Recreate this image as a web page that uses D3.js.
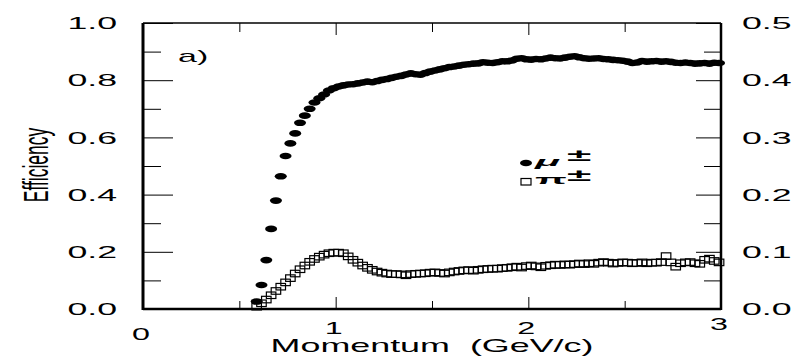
<!DOCTYPE html>
<html lang="en">
<head>
<meta charset="UTF-8">
<title>Efficiency vs Momentum</title>
<script src="https://cdn.jsdelivr.net/npm/d3@7"></script>
<style>
    body { margin: 0; background: #fff; }
    svg { display: block; }
    text { font-family: "Liberation Sans", Arial, sans-serif; fill: #000; }
</style>
</head>
<body>
<svg id="canvas" width="799" height="357"></svg>
<script>
    // momentum bins (GeV/c)
    const momentum = [
        0.590,0.615,0.640,0.665,0.690,0.715,0.740,0.765,0.790,0.815,
        0.840,0.865,0.890,0.915,0.940,0.965,0.990,1.015,1.040,1.065,
        1.090,1.115,1.140,1.165,1.190,1.215,1.240,1.265,1.290,1.315,
        1.340,1.365,1.390,1.415,1.440,1.465,1.490,1.515,1.540,1.565,
        1.590,1.615,1.640,1.665,1.690,1.715,1.740,1.765,1.790,1.815,
        1.840,1.865,1.890,1.915,1.940,1.965,1.990,2.015,2.040,2.065,
        2.090,2.115,2.140,2.165,2.190,2.215,2.240,2.265,2.290,2.315,
        2.340,2.365,2.390,2.415,2.440,2.465,2.490,2.515,2.540,2.565,
        2.590,2.615,2.640,2.665,2.690,2.715,2.740,2.765,2.790,2.815,
        2.840,2.865,2.890,2.915,2.940,2.965,2.990
    ];
    // muon efficiency (left axis)
    const muonEff = [
        0.026,0.084,0.171,0.280,0.379,0.464,0.535,0.579,0.614,0.651,
        0.676,0.700,0.722,0.737,0.750,0.764,0.772,0.778,0.782,0.785,
        0.786,0.789,0.792,0.795,0.793,0.797,0.801,0.804,0.808,0.812,
        0.815,0.820,0.824,0.821,0.819,0.825,0.830,0.834,0.838,0.842,
        0.846,0.848,0.851,0.854,0.856,0.858,0.859,0.863,0.861,0.860,
        0.863,0.866,0.866,0.869,0.875,0.877,0.873,0.872,0.874,0.873,
        0.876,0.879,0.877,0.876,0.879,0.882,0.884,0.880,0.877,0.875,
        0.876,0.877,0.874,0.873,0.871,0.870,0.868,0.865,0.860,0.862,
        0.867,0.865,0.866,0.867,0.865,0.866,0.864,0.861,0.860,0.862,
        0.860,0.858,0.859,0.860,0.858,0.861,0.860
    ];
    // pion efficiency (read on the left scale)
    const pionEff = [
        0.008,0.020,0.033,0.048,0.063,0.078,0.093,0.108,0.124,0.139,
        0.152,0.165,0.175,0.183,0.190,0.195,0.197,0.197,0.195,0.184,
        0.172,0.162,0.152,0.144,0.137,0.131,0.127,0.124,0.122,0.122,
        0.121,0.118,0.122,0.123,0.124,0.125,0.127,0.128,0.126,0.124,
        0.128,0.131,0.133,0.135,0.136,0.134,0.137,0.139,0.140,0.141,
        0.141,0.143,0.144,0.146,0.148,0.145,0.150,0.152,0.149,0.146,
        0.151,0.153,0.155,0.154,0.156,0.155,0.157,0.159,0.157,0.160,
        0.158,0.162,0.164,0.162,0.159,0.161,0.163,0.162,0.160,0.161,
        0.163,0.160,0.162,0.162,0.164,0.185,0.163,0.148,0.160,0.163,
        0.164,0.160,0.158,0.172,0.176,0.168,0.163
    ];
    const xTicks = [0, 1, 2, 3];
    const yTicksLeft = [0, 0.2, 0.4, 0.6, 0.8, 1.0];
    const yTicksRight = [0, 0.1, 0.2, 0.3, 0.4, 0.5];

    const svg = d3.select('#canvas');
    const x = d3.scaleLinear().domain([0, 3]).range([143, 721]);
    const y = d3.scaleLinear().domain([0, 1]).range([309, 23]);
    const yR = d3.scaleLinear().domain([0, 0.5]).range([309, 23]);

    // the original is stretched sideways, so every text is scaled in x
    function stretchText(sel, tx, ty, sx, sy) {
        return sel.attr('transform', `translate(${tx},${ty}) scale(${sx},${sy || 1})`);
    }

    // inward ticks, drawn with d3 axes and no labels
    function ticks(axis, vals, size, tr) {
        svg.append('g')
            .attr('transform', tr)
            .call(axis.tickValues(vals).tickSize(size).tickFormat(''))
            .call(g => g.select('.domain').remove())
            .selectAll('line').attr('stroke', '#000').attr('stroke-width', 1);
    }
    ticks(d3.axisLeft(y), [0.1, 0.3, 0.5, 0.7, 0.9], -18, 'translate(143,0)');
    ticks(d3.axisLeft(y), yTicksLeft, -30, 'translate(143,0)');
    ticks(d3.axisRight(yR), [0.05, 0.15, 0.25, 0.35, 0.45], -17, 'translate(721,0)');
    ticks(d3.axisRight(yR), yTicksRight, -25, 'translate(721,0)');
    ticks(d3.axisBottom(x), [0.5, 1.5, 2.5], -8, 'translate(0,309)');
    ticks(d3.axisBottom(x), [1, 2], -12, 'translate(0,309)');
    ticks(d3.axisTop(x), [0.5, 1.5, 2.5], -9, 'translate(0,23)');
    ticks(d3.axisTop(x), [1, 2], -12, 'translate(0,23)');

    // frame
    const frame = svg.append('g').attr('stroke', '#000').attr('fill', 'none');
    frame.append('line').attr('x1', x(0)).attr('x2', x(3)).attr('y1', y(1)).attr('y2', y(1)).attr('stroke-width', 1.5);
    frame.append('line').attr('x1', x(0)).attr('x2', x(3)).attr('y1', y(0)).attr('y2', y(0)).attr('stroke-width', 2.3);
    frame.append('line').attr('x1', x(0)).attr('x2', x(0)).attr('y1', y(1)).attr('y2', y(0) + 1).attr('stroke-width', 3);
    frame.append('line').attr('x1', x(3)).attr('x2', x(3)).attr('y1', y(1)).attr('y2', y(0) + 1).attr('stroke-width', 2.5);

    // tick labels
    yTicksLeft.forEach(v => {
        stretchText(svg.append('text'), 117, y(v), 2.1)
            .attr('text-anchor', 'end').attr('dy', '0.36em')
            .style('font-size', '17px').text(v.toFixed(1));
    });
    yTicksRight.forEach(v => {
        stretchText(svg.append('text'), 742, yR(v), 2.1)
            .attr('text-anchor', 'start').attr('dy', '0.36em')
            .style('font-size', '17px').text(v.toFixed(1));
    });
    const xLabelBase = { 0: 340, 1: 334, 2: 334, 3: 330 };
    xTicks.forEach(v => {
        stretchText(svg.append('text'), x(v) - 2, xLabelBase[v], 1.9)
            .attr('text-anchor', 'middle')
            .style('font-size', '17px').text(v);
    });

    // axis titles
    stretchText(svg.append('text'), 432, 352, 2.05)
        .attr('text-anchor', 'middle')
        .style('font-size', '17.5px').style('white-space', 'pre')
        .text('Momentum  (GeV/c)');
    svg.append('text')
        .attr('transform', 'translate(48,165) scale(2.1,1.03) rotate(-90)')
        .attr('text-anchor', 'middle')
        .style('font-size', '17px').text('Efficiency');
    stretchText(svg.append('text'), 178, 62, 2)
        .style('font-size', '17px').text('a)');

    // pions: open squares
    const sqW = 9.5, sqH = 6.5;
    svg.append('g').selectAll('rect')
        .data(momentum.map((p, i) => [p, pionEff[i]]))
        .join('rect')
        .attr('x', d => x(d[0]) - sqW / 2)
        .attr('y', d => y(d[1]) - sqH / 2)
        .attr('width', sqW).attr('height', sqH)
        .attr('fill', 'none').attr('stroke', '#000').attr('stroke-width', 1.2);

    // muons: filled dots
    svg.append('g').selectAll('ellipse')
        .data(momentum.map((p, i) => [p, muonEff[i]]))
        .join('ellipse')
        .attr('cx', d => x(d[0])).attr('cy', d => y(d[1]))
        .attr('rx', 6).attr('ry', 3.3)
        .attr('fill', '#000');

    // legend
    svg.append('ellipse').attr('cx', 526).attr('cy', 163).attr('rx', 6).attr('ry', 3.3).attr('fill', '#000');
    svg.append('rect').attr('x', 521).attr('y', 178.5).attr('width', 10).attr('height', 6.5)
        .attr('fill', 'none').attr('stroke', '#000').attr('stroke-width', 1.2);
    stretchText(svg.append('text'), 535, 166, 3.2)
        .style('font-size', '13px').style('font-weight', 'bold').style('font-style', 'italic').text('μ');
    stretchText(svg.append('text'), 535, 184, 3.2)
        .style('font-size', '13px').style('font-weight', 'bold').text('π');
    stretchText(svg.append('text'), 567, 161, 2.6)
        .style('font-size', '17px').style('font-weight', 'bold').text('±');
    stretchText(svg.append('text'), 567, 181, 2.6)
        .style('font-size', '17px').style('font-weight', 'bold').text('±');
</script>
</body>
</html>
